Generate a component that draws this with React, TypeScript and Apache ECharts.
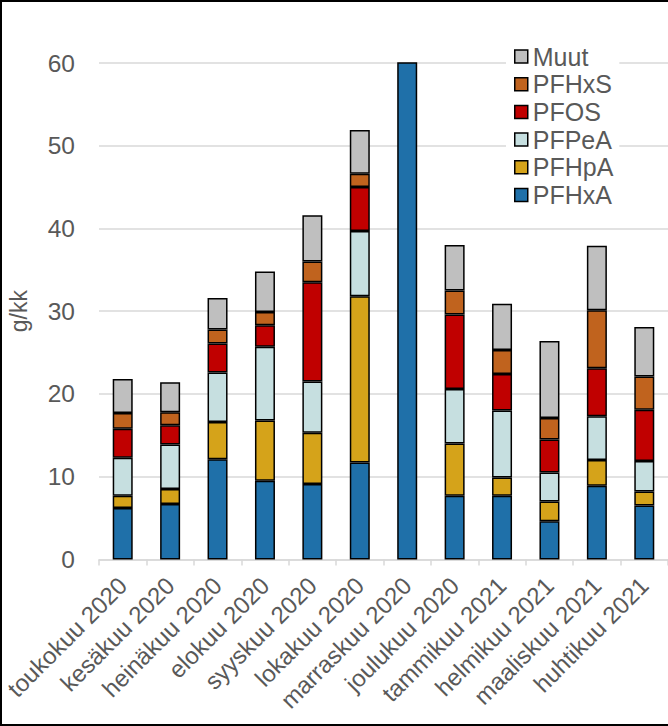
import React, { useEffect, useRef } from "react";
import * as echarts from "echarts";

const categories = [
  "toukokuu 2020", "kesäkuu 2020", "heinäkuu 2020", "elokuu 2020", "syyskuu 2020", "lokakuu 2020",
  "marraskuu 2020", "joulukuu 2020", "tammikuu 2021", "helmikuu 2021", "maaliskuu 2021", "huhtikuu 2021",
];
const PFHxA = [6.2, 6.7, 12.1, 9.5, 9.1, 11.7, 72, 7.7, 7.7, 4.6, 8.9, 6.5];
const PFHpA = [1.5, 1.8, 4.5, 7.3, 6.2, 20.1, null, 6.3, 2.2, 2.4, 3.1, 1.7];
const PFPeA = [4.6, 5.4, 6.0, 8.9, 6.2, 7.9, null, 6.6, 8.1, 3.5, 5.3, 3.7];
const PFOS = [3.5, 2.3, 3.5, 2.6, 12.0, 5.3, null, 9.0, 4.4, 4.0, 5.8, 6.2];
const PFHxS = [1.9, 1.6, 1.7, 1.6, 2.5, 1.6, null, 2.9, 2.9, 2.6, 7.0, 4.0];
const Muut = [4.1, 3.6, 3.8, 4.9, 5.6, 5.3, null, 5.5, 5.6, 9.3, 7.8, 6.0];

const seriesDefs = [
  { name: "PFHxA", data: PFHxA, color: "#1f70a9" },
  { name: "PFHpA", data: PFHpA, color: "#d5a31a" },
  { name: "PFPeA", data: PFPeA, color: "#c6dfe0" },
  { name: "PFOS", data: PFOS, color: "#c00000" },
  { name: "PFHxS", data: PFHxS, color: "#c0631e" },
  { name: "Muut", data: Muut, color: "#bfbfbf" },
];
const legendOrder = ["Muut", "PFHxS", "PFOS", "PFPeA", "PFHpA", "PFHxA"];
const yTicks = { min: 0, max: 60, interval: 10 };

const FONT = "'Liberation Sans', Arial, sans-serif";
const TEXT = "#595959";
const GRID = "#d9d9d9";

export default function App() {
  const ref = useRef<HTMLDivElement>(null);
  useEffect(() => {
    document.body.style.margin = "0";
    const chart = echarts.init(ref.current!, null, { renderer: "svg" });
    chart.setOption({
      animation: false,
      backgroundColor: "#fff",
      textStyle: { fontFamily: FONT },
      grid: { left: 99, right: 0, top: 63, bottom: 166.6, containLabel: false, outerBoundsMode: "none" },
      legend: {
        data: legendOrder,
        orient: "vertical",
        left: 506,
        top: 40,
        itemWidth: 13,
        itemHeight: 13,
        itemGap: 2.7,
        padding: [4, 6, 4, 8],
        backgroundColor: "#fff",
        icon: "rect",
        itemStyle: { borderColor: "#000", borderWidth: 1.5 },
        textStyle: { fontSize: 25, color: TEXT, fontFamily: FONT, lineHeight: 25 },
      },
      xAxis: {
        type: "category",
        data: categories,
        axisLine: { lineStyle: { color: GRID, width: 1.5 } },
        axisTick: { show: true, length: 6, lineStyle: { color: GRID, width: 1.5 } },
        axisLabel: { rotate: 45, interval: 0, fontSize: 24, color: TEXT, fontFamily: FONT, margin: 22 },
      },
      yAxis: {
        type: "value",
        min: yTicks.min,
        max: yTicks.max,
        interval: yTicks.interval,
        name: "g/kk",
        nameLocation: "middle",
        nameRotate: 90,
        nameGap: 69,
        nameTextStyle: { fontSize: 23, color: TEXT, fontFamily: FONT },
        axisLine: { show: false },
        axisTick: { show: false },
        axisLabel: { fontSize: 24.5, color: TEXT, fontFamily: FONT, margin: 24 },
        splitLine: { lineStyle: { color: GRID, width: 1.5 } },
      },
      series: seriesDefs.map((s) => ({
        name: s.name,
        type: "bar",
        stack: "total",
        data: s.data,
        barWidth: 20,
        clip: true,
        itemStyle: { color: s.color, borderColor: "#000", borderWidth: 1.5 },
      })),
    });
    return () => chart.dispose();
  }, []);
  return (
    <div style={{ position: "relative", width: 668, height: 726 }}>
      <div ref={ref} style={{ position: "absolute", left: 0, top: 0, width: 668, height: 726 }} />
      <div
        style={{
          position: "absolute",
          left: 0,
          top: 0,
          width: 668,
          height: 726,
          boxSizing: "border-box",
          borderLeft: "2px solid #000",
          borderTop: "2px solid #000",
          borderBottom: "2px solid #000",
          pointerEvents: "none",
        }}
      />
    </div>
  );
}
